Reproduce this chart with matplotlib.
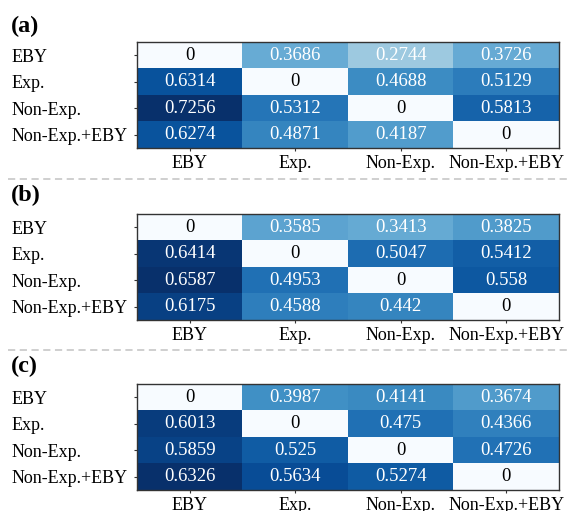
import numpy as np
import matplotlib
matplotlib.use("Agg")
from matplotlib import pyplot as plt

plt.rcParams['font.family'] = ['Liberation Serif', 'DejaVu Serif']

# Distancias entre grupos, uma matriz por painel
grupos = ["EBY", "Exp.", "Non-Exp.", "Non-Exp.+EBY"]

matriz_a = [[0, 0.3686, 0.2744, 0.3726],
            [0.6314, 0, 0.4688, 0.5129],
            [0.7256, 0.5312, 0, 0.5813],
            [0.6274, 0.4871, 0.4187, 0]]

matriz_b = [[0, 0.3585, 0.3413, 0.3825],
            [0.6414, 0, 0.5047, 0.5412],
            [0.6587, 0.4953, 0, 0.558],
            [0.6175, 0.4588, 0.442, 0]]

matriz_c = [[0, 0.3987, 0.4141, 0.3674],
            [0.6013, 0, 0.475, 0.4366],
            [0.5859, 0.525, 0, 0.4726],
            [0.6326, 0.5634, 0.5274, 0]]

paineis = ["(a)", "(b)", "(c)"]
matrizes = [matriz_a, matriz_b, matriz_c]

fig = plt.figure(figsize=(5.71, 5.11), dpi=100)

# posicoes em pixels: topo do heatmap e do rotulo de cada painel
topos = [42, 214, 384]
rotulos_y = [26, 195, 366]
W, H = 571, 511
esq, larg, alt = 137, 422, 106
px = 72 / 100  # pixels -> pontos

for nome, dados, topo, ry in zip(paineis, matrizes, topos, rotulos_y):
    dados = np.array(dados)
    ax = fig.add_axes([esq / W, (H - topo - alt) / H, larg / W, alt / H])
    ax.imshow(dados, cmap='Blues', vmin=0, vmax=dados.max(), aspect='auto')
    for i in range(4):
        for j in range(4):
            v = dados[i, j]
            txt = "0" if v == 0 else f"{v:g}"
            ax.text(j, i, txt, ha='center', va='center', fontsize=13.5,
                    color='black' if v == 0 else 'white')
    ax.set_xticks(range(4))
    ax.set_yticks(range(4))
    ax.set_xticklabels(grupos, fontsize=13)
    ax.set_yticklabels(grupos, fontsize=13, ha='left')
    ax.tick_params(length=2.5, width=0.8, color='#333333')
    ax.tick_params(axis='x', pad=2.5)
    # rotulos do eixo y alinhados a esquerda
    ax.tick_params(axis='y', pad=(esq - 12) * px - 2.5)
    for s in ax.spines.values():
        s.set_color('#333333')
        s.set_linewidth(1.0)
    fig.text(11 / W, 1 - ry / H, nome, fontsize=17.5, fontweight='bold',
             ha='left', va='center')

# linhas tracejadas separando os paineis
for y in [179, 350]:
    fig.add_artist(plt.Line2D([8 / W, 1], [1 - y / H, 1 - y / H],
                              color='#cccccc', lw=1.3, ls=(0, (4, 2.5))))

fig.savefig('out.png', dpi=100)
